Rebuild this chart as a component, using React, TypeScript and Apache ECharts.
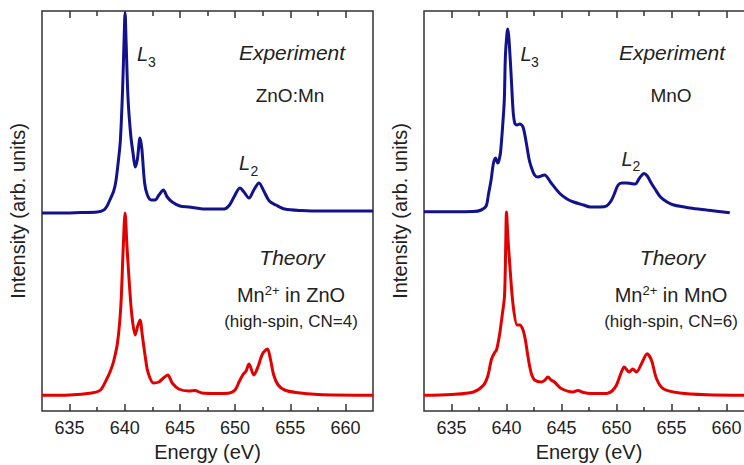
import React, { useEffect, useRef } from 'react';
import * as echarts from 'echarts';

// Tick positions (eV)
const majorTicks = [635, 640, 645, 650, 655, 660];
const minorTicks = [637.5, 642.5, 647.5, 652.5, 657.5];

// [energy (eV), intensity (arb. units, offset)]
const znoExperiment = [
  [632.5, 198], [634, 198], [636, 198.5], [637.5, 199], [638.1, 201], [638.4, 205], [638.65, 211],
  [639.0, 220], [639.2, 230], [639.4, 248], [639.6, 270], [639.8, 320], [639.95, 375], [640.03, 398],
  [640.12, 370], [640.3, 312], [640.55, 275], [640.75, 258], [640.95, 244], [641.15, 252], [641.38, 273],
  [641.55, 262], [641.8, 228], [642.05, 216], [642.4, 211], [642.75, 211], [643.1, 216], [643.5, 221],
  [643.85, 214], [644.3, 209], [645.0, 205], [645.8, 204], [647.3, 202], [649.0, 202], [649.5, 206],
  [649.9, 214], [650.44, 223], [650.8, 219], [651.26, 213], [651.7, 221], [652.17, 228], [652.6, 220],
  [653.1, 210], [653.7, 206], [654.5, 202], [656.0, 200.5], [658.0, 200], [662.5, 200],
];

const znoTheory = [
  [632.5, 15.7], [635, 16], [637, 18], [637.8, 21], [638.37, 32], [638.7, 40], [639.0, 50], [639.34, 68],
  [639.64, 104], [639.85, 160], [640.03, 198], [640.2, 165], [640.4, 130], [640.65, 95], [640.95, 76],
  [641.15, 84], [641.38, 91], [641.6, 75], [641.85, 55], [642.1, 39], [642.6, 28], [643.1, 29], [643.5, 33],
  [643.9, 36], [644.3, 28], [644.9, 22], [645.8, 20], [646.35, 20.5], [647, 18], [648.5, 17.5], [649.5, 18],
  [650.0, 21], [650.4, 30], [650.75, 37], [651.0, 40], [651.26, 47], [651.7, 36], [652.1, 45], [652.48, 57],
  [652.93, 62], [653.2, 52], [653.5, 36], [653.9, 26], [654.5, 21], [655.5, 18.5], [657.5, 16.5], [662.5, 15.7],
];

const mnoExperiment = [
  [632.5, 199.3], [635, 199.3], [637, 199.5], [637.7, 201], [638.15, 205], [638.35, 216], [638.6, 231],
  [638.8, 247], [639.0, 253], [639.2, 248], [639.3, 250], [639.45, 258], [639.65, 285], [639.8, 311],
  [639.9, 355], [640.05, 378], [640.13, 382], [640.25, 368], [640.45, 330], [640.6, 300], [640.75, 288],
  [640.95, 286], [641.2, 287], [641.5, 284], [641.8, 268], [642.05, 252], [642.25, 244], [642.55, 236],
  [642.85, 234], [643.45, 236], [644.06, 228], [644.8, 218], [645.5, 212], [646.1, 209], [647, 206],
  [647.6, 204], [648.5, 204], [649.1, 205], [649.5, 210], [649.8, 217], [650.15, 226], [650.5, 228],
  [650.9, 228], [651.3, 227.5], [651.7, 227], [652.1, 233], [652.5, 237.5], [652.8, 235], [653.1, 229],
  [653.5, 222], [654, 214], [654.6, 209], [655.2, 206], [656.7, 203], [658.2, 201], [660.3, 198.3],
];

const mnoTheory = [
  [632.5, 15.7], [635, 16.5], [637, 19], [637.9, 25.7], [638.3, 35], [638.64, 52], [638.9, 58], [639.09, 61],
  [639.35, 75], [639.6, 95], [639.82, 115], [639.92, 160], [640.0, 199], [640.12, 175], [640.3, 146],
  [640.6, 106], [640.97, 86], [641.2, 86], [641.5, 81], [641.7, 72], [641.9, 58], [642.1, 45], [642.3, 36],
  [642.55, 31], [643.15, 29], [643.5, 31], [643.76, 34], [644.05, 31], [644.36, 29], [644.97, 22.5],
  [646.06, 19], [646.5, 20.5], [647.0, 18.5], [647.7, 17.5], [649.09, 17.5], [649.6, 20], [650.0, 26],
  [650.45, 39], [650.7, 44], [651.15, 39], [651.48, 42], [651.82, 39], [652.27, 47.3], [652.79, 57.3],
  [653.18, 50.7], [653.64, 32.3], [654.25, 22.3], [655.76, 18], [658.18, 16.3], [662.5, 15.7],
];

const FONT = '"Liberation Sans", Arial, sans-serif';
const TEXT = '#222';
const FRAME = '#333';
const BLUE = '#12128c';
const RED = '#e30000';

function xAxesFor(gridIndex: number) {
  const base = {
    gridIndex,
    type: 'value' as const,
    min: 632.5,
    max: 662.5,
    axisLine: { show: false },
    splitLine: { show: false },
  };
  return [
    {
      ...base,
      position: 'bottom',
      axisTick: { show: true, inside: true, length: 7, customValues: majorTicks, lineStyle: { color: FRAME, width: 1.5 } },
      axisLabel: { show: true, customValues: majorTicks, fontSize: 18, color: TEXT, fontFamily: FONT, margin: 8 },
      name: 'Energy (eV)',
      nameLocation: 'middle',
      nameGap: 31,
      nameTextStyle: { fontSize: 20, color: TEXT, fontFamily: FONT },
    },
    {
      ...base,
      position: 'bottom',
      axisTick: { show: true, inside: true, length: 4, customValues: minorTicks, lineStyle: { color: FRAME, width: 1.5 } },
      axisLabel: { show: false },
    },
    {
      ...base,
      position: 'top',
      axisTick: { show: true, inside: true, length: 7, customValues: majorTicks, lineStyle: { color: FRAME, width: 1.5 } },
      axisLabel: { show: false },
    },
    {
      ...base,
      position: 'top',
      axisTick: { show: true, inside: true, length: 5, customValues: minorTicks, lineStyle: { color: FRAME, width: 1.5 } },
      axisLabel: { show: false },
    },
  ];
}

function yAxisFor(gridIndex: number) {
  return {
    gridIndex,
    type: 'value' as const,
    min: 0,
    max: 400,
    axisLine: { show: false },
    axisTick: { show: false },
    axisLabel: { show: false },
    splitLine: { show: false },
    name: 'Intensity (arb. units)',
    nameLocation: 'middle',
    nameGap: 14,
    nameTextStyle: { fontSize: 20, color: TEXT, fontFamily: FONT },
  };
}

function lineSeries(data: number[][], xAxisIndex: number, yAxisIndex: number, color: string) {
  return {
    type: 'line',
    data,
    xAxisIndex,
    yAxisIndex,
    showSymbol: false,
    smooth: 0.3,
    clip: false,
    lineStyle: { color, width: 3 },
    itemStyle: { color },
  };
}

function txt(x: number, y: number, text: string, font: string, align = 'center') {
  return {
    type: 'text',
    x,
    y,
    style: {
      text,
      font,
      fill: TEXT,
      align,
      verticalAlign: 'middle',
      textAlign: align,
      textVerticalAlign: 'middle',
    },
  };
}

function richTxt(x: number, y: number, main: string, sup: string, rest: string) {
  return {
    type: 'text',
    x,
    y,
    style: {
      text: `{a|${main}}{b|${sup}}{a|${rest}}`,
      fill: TEXT,
      align: 'center',
      verticalAlign: 'middle',
      rich: {
        a: { fontSize: 20, fontFamily: FONT, fill: TEXT, color: TEXT },
        b: { fontSize: 13, fontFamily: FONT, fill: TEXT, color: TEXT, padding: [0, 0, 10, 0] },
      },
    },
  };
}

const ITALIC = `italic 21px ${FONT}`;
const LFONT = `italic 20px ${FONT}`;
const SUBFONT = `14px ${FONT}`;

export default function App() {
  const ref = useRef<HTMLDivElement>(null);
  useEffect(() => {
    if (!ref.current) return;
    const chart = echarts.init(ref.current, undefined, { renderer: 'svg' });
    chart.setOption({
      animation: false,
      backgroundColor: '#ffffff',
      grid: [
        { left: 42, top: 11, width: 331, height: 400, show: true, borderColor: FRAME, borderWidth: 1.5, backgroundColor: 'transparent', outerBoundsMode: 'none', containLabel: false },
        { left: 424, top: 11, width: 330, height: 400, show: true, borderColor: FRAME, borderWidth: 1.5, backgroundColor: 'transparent', outerBoundsMode: 'none', containLabel: false },
      ],
      xAxis: [...xAxesFor(0), ...xAxesFor(1)],
      yAxis: [yAxisFor(0), yAxisFor(1)],
      series: [
        lineSeries(znoExperiment, 0, 0, BLUE),
        lineSeries(znoTheory, 0, 0, RED),
        lineSeries(mnoExperiment, 4, 1, BLUE),
        lineSeries(mnoTheory, 4, 1, RED),
      ],
      graphic: [
        // left panel
        txt(292, 52, 'Experiment', ITALIC),
        txt(290, 95, 'ZnO:Mn', `19px ${FONT}`),
        txt(137, 54, 'L', LFONT, 'left'),
        txt(148, 62, '3', SUBFONT, 'left'),
        txt(239, 163, 'L', LFONT, 'left'),
        txt(250.5, 171, '2', SUBFONT, 'left'),
        txt(292, 257, 'Theory', ITALIC),
        richTxt(291, 295, 'Mn', '2+', ' in ZnO'),
        txt(291, 321, '(high-spin, CN=4)', `17px ${FONT}`),
        // right panel
        txt(672, 52, 'Experiment', ITALIC),
        txt(671, 95, 'MnO', `19px ${FONT}`),
        txt(520.5, 54, 'L', LFONT, 'left'),
        txt(531, 62, '3', SUBFONT, 'left'),
        txt(621.5, 159, 'L', LFONT, 'left'),
        txt(632.5, 166, '2', SUBFONT, 'left'),
        txt(672.5, 257, 'Theory', ITALIC),
        richTxt(671, 295, 'Mn', '2+', ' in MnO'),
        txt(671, 321, '(high-spin, CN=6)', `17px ${FONT}`),
      ],
    });
    return () => chart.dispose();
  }, []);
  return (
    <div
      ref={ref}
      style={{ position: 'absolute', left: 0, top: 0, width: 744, height: 465, overflow: 'hidden' }}
    />
  );
}
